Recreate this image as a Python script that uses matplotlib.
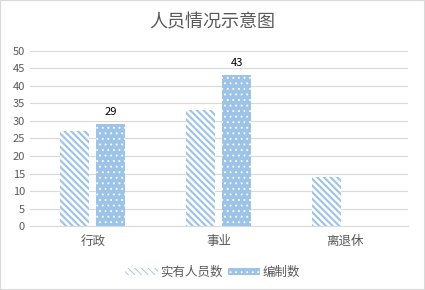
import numpy as np
import matplotlib.pyplot as plt

plt.rcParams['font.family'] = ['Noto Sans CJK SC', 'DejaVu Sans']

categories = ['行政', '事业', '离退休']
actual = [27, 33, 14]       # 实有人员数
quota = [29, 43, 0]         # 编制数
quota_labels = ['29', '43', '']

blue = '#9DC3E6'
grid_col = '#D9D9D9'
text_col = '#595959'

fig = plt.figure(figsize=(4.25, 2.9), dpi=100)
ax = fig.add_axes([0.07, 0.22, 0.89, 0.605])

x = np.arange(len(categories))
w = 0.23
off = 0.143

# diagonal stripes for 实有人员数
plt.rcParams['hatch.linewidth'] = 1.5
plt.rcParams['hatch.color'] = blue
b1 = ax.bar(x - off, actual, w, color='white', edgecolor=blue, hatch='\\' * 5, linewidth=0,
            label='实有人员数')
# white dots on blue for 编制数
plt.rcParams['hatch.linewidth'] = 0.6
plt.rcParams['hatch.color'] = 'white'
b2 = ax.bar(x + off, quota, w, color=blue, edgecolor='white', hatch='.' * 3, linewidth=0,
            label='编制数')

for xi, v, s in zip(x, quota, quota_labels):
    if s:
        ax.text(xi + off, v + 2.2, s, ha='center', va='bottom', fontsize=8, color='black')

ax.set_xlim(-0.5, 2.5)
ax.set_ylim(0, 50)
ax.set_yticks(range(0, 51, 5))
ax.yaxis.grid(True, color=grid_col, linewidth=0.8)
ax.set_axisbelow(True)
for s in ['top', 'right', 'left']:
    ax.spines[s].set_visible(False)
ax.spines['bottom'].set_color(grid_col)
ax.tick_params(axis='both', length=0, colors=text_col, labelsize=8)
ax.tick_params(axis='x', labelsize=9, pad=6)
ax.set_xticks(x)
ax.set_xticklabels(categories)

fig.suptitle('人员情况示意图', y=0.955, fontsize=13, color=text_col)

leg = fig.legend(handles=[b1, b2], loc='lower center', bbox_to_anchor=(0.5, 0.0), ncol=2,
                 frameon=False, fontsize=9, handlelength=2.6, handleheight=0.5,
                 columnspacing=0.4, handletextpad=0.2, labelcolor=text_col)

fig.patches.append(plt.Rectangle((0, 0), 1, 1, transform=fig.transFigure, fill=False,
                                 edgecolor='#D9D9D9', linewidth=1.5))

fig.savefig('out.png', dpi=100)
